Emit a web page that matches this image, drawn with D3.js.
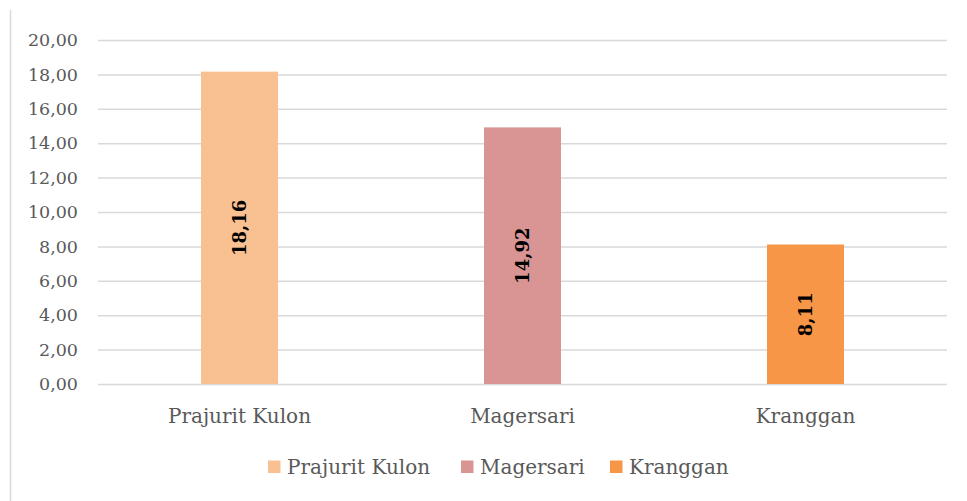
<!DOCTYPE html>
<html><head><meta charset="utf-8">
<script src="https://cdn.jsdelivr.net/npm/d3@7"></script>
<style>body{margin:0;background:#fff}svg{display:block}</style>
</head><body>
<svg id="c" width="967" height="501"></svg>
<script>
const categories = ["Prajurit Kulon", "Magersari", "Kranggan"];
const values = [18.16, 14.92, 8.11];
const colors = ["#F9C091", "#D99594", "#F79646"];
const yTicks = [0, 2, 4, 6, 8, 10, 12, 14, 16, 18, 20];

const FONT = "'DejaVu Serif', serif";
const fmt = v => v.toFixed(2).replace(".", ",");
const svg = d3.select("#c");
const m = {l: 98, r: 20, t: 40, b: 117};
const W = 967, H = 501;

const x = d3.scaleBand().domain(categories).range([m.l, W - m.r]).padding(0);
const y = d3.scaleLinear().domain([0, 20]).range([H - m.b, m.t]);

// border
svg.append("line").attr("x1", 10.5).attr("x2", 10.5).attr("y1", 10).attr("y2", H)
  .attr("stroke", "#d9d9d9").attr("stroke-width", 1.5);

// grid
const ya = d3.axisLeft(y).tickValues(yTicks).tickSize(-(W - m.r - m.l)).tickFormat(fmt).tickPadding(20);
const gy = svg.append("g").attr("transform", `translate(${m.l},0)`).call(ya);
gy.select(".domain").remove();
gy.selectAll(".tick line").attr("stroke", "#d9d9d9").attr("stroke-width", 1.5);
gy.selectAll(".tick text").attr("fill", "#595959").style("font-family", FONT).style("font-size", "17.5px");

// bars
const bw = 77;
svg.selectAll("rect.bar").data(values).join("rect").attr("class", "bar")
  .attr("x", (d, i) => x(categories[i]) + x.bandwidth() / 2 - bw / 2)
  .attr("width", bw)
  .attr("y", d => y(d)).attr("height", d => y(0) - y(d))
  .attr("fill", (d, i) => colors[i]);

// labels
svg.selectAll("text.lbl").data(values).join("text").attr("class", "lbl")
  .attr("transform", (d, i) => `translate(${x(categories[i]) + x.bandwidth() / 2},${(y(d) + y(0)) / 2}) rotate(-90)`)
  .attr("text-anchor", "middle").attr("dy", "0.35em")
  .style("font-family", FONT).style("font-size", "18px").style("font-weight", "bold")
  .attr("fill", "#000").text(fmt);

// x axis
const xa = d3.axisBottom(x).tickSize(0).tickPadding(25);
const gx = svg.append("g").attr("transform", `translate(0,${y(0)})`).call(xa);
gx.select(".domain").remove();
gx.selectAll(".tick text").attr("fill", "#595959").style("font-family", FONT).style("font-size", "20px");

// legend
const legX = [268, 461, 610];
const lg = svg.append("g");
categories.forEach((c, i) => {
  lg.append("rect").attr("x", legX[i]).attr("y", 460.5).attr("width", 12.5).attr("height", 12.5).attr("fill", colors[i]);
  lg.append("text").attr("x", legX[i] + 19).attr("y", 467).attr("dy", "0.35em")
    .attr("fill", "#595959").style("font-family", FONT).style("font-size", "20px").text(c);
});
</script>
</body></html>
